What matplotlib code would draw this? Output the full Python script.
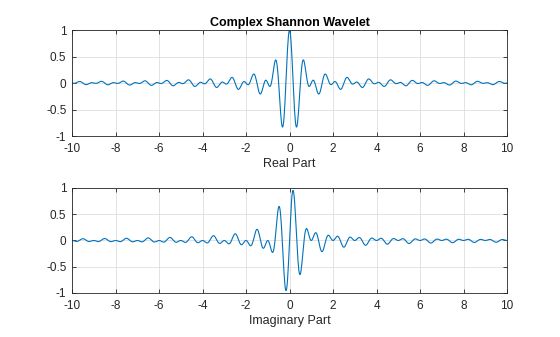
import numpy as np
import matplotlib.pyplot as plt

# complex Shannon wavelet: bandwidth and centre frequency
fb = 1.0
fc = 1.5
lb, ub, n = -10, 10, 1000

x_ticks = [-10, -8, -6, -4, -2, 0, 2, 4, 6, 8, 10]
y_ticks = [-1, -0.5, 0, 0.5, 1]
y_ticklabels = ['-1', '-0.5', '0', '0.5', '1']

x = np.linspace(lb, ub, n)
psi = np.sqrt(fb) * np.sinc(fb * x) * np.exp(2j * np.pi * fc * x)

plt.rcParams['font.family'] = ['Liberation Sans', 'DejaVu Sans']
plt.rcParams['font.size'] = 8
plt.rcParams['axes.unicode_minus'] = False

fig = plt.figure(figsize=(5.6, 3.37), dpi=100)
ax1 = fig.add_axes([0.1286, 0.5964, 0.7768, 0.3145])
ax2 = fig.add_axes([0.1286, 0.1306, 0.7768, 0.3116])

for ax, part, label in [(ax1, psi.real, 'Real Part'),
                        (ax2, psi.imag, 'Imaginary Part')]:
    ax.plot(x, part, color='#0072BD', linewidth=0.8)
    ax.set_xlim(lb, ub)
    ax.set_ylim(-1, 1)
    ax.set_xticks(x_ticks)
    ax.set_yticks(y_ticks)
    ax.set_yticklabels(y_ticklabels)
    ax.grid(True, color='#dedede', linewidth=0.6)
    ax.set_axisbelow(True)
    ax.tick_params(direction='in', length=3, width=0.6, colors='#262626',
                   labelsize=8.5, top=True, right=True)
    ax.tick_params(axis='x', pad=5)
    ax.tick_params(axis='y', pad=4)
    for s in ax.spines.values():
        s.set_linewidth(0.6)
        s.set_color('#262626')
    ax.set_xlabel(label, fontsize=9, color='#262626', labelpad=2)

ax1.set_title('Complex Shannon Wavelet', fontsize=9, fontweight='bold',
              color='#000000', pad=3)

fig.savefig('out.png', dpi=100)
